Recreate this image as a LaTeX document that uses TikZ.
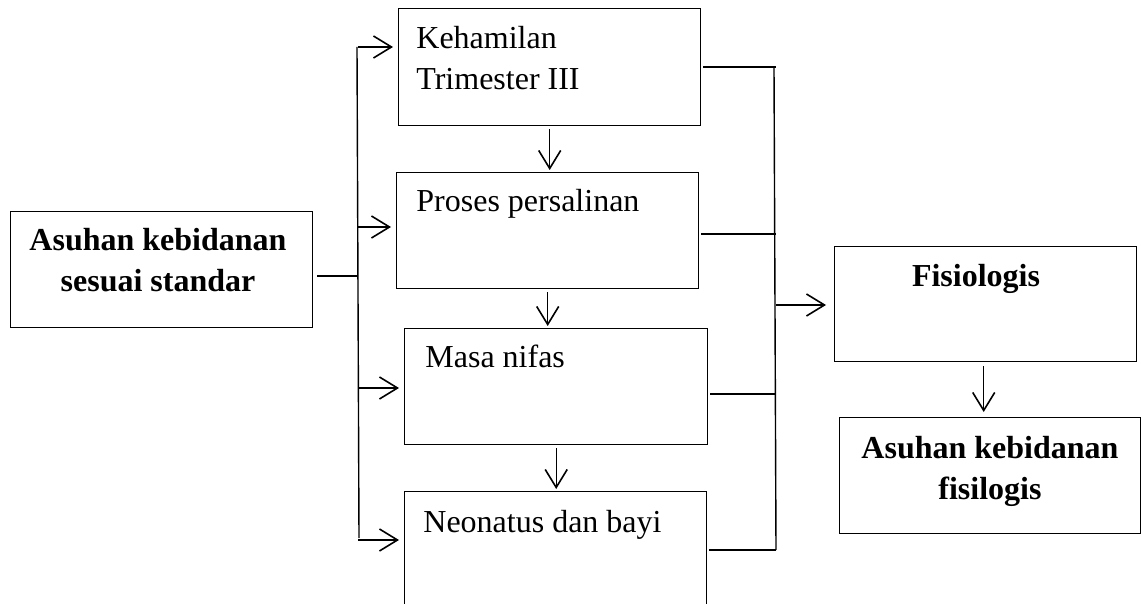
\documentclass[tikz,border=0pt]{standalone}
\usepackage{fontspec}
\setmainfont{Liberation Serif}
\usetikzlibrary{arrows.meta}
\begin{document}
\begin{tikzpicture}[x=0.5pt,y=-0.5pt,
		box/.style={draw, line width=0.7pt, rectangle, inner sep=0pt, anchor=north west},
		txt/.style={font=\fontsize{16pt}{20.5pt}\selectfont, inner sep=0pt},
		txtb/.style={font=\fontsize{16pt}{20.5pt}\selectfont\bfseries, inner sep=0pt, align=center},
		conn/.style={line width=0.7pt},
		arr/.style={conn, -{Straight Barb[length=9pt,width=11pt,line width=0.8pt]}}]
	\useasboundingbox (0,0) rectangle (1141,604);
	\clip (0,0) rectangle (1141,604);
	
	% boxes
	\foreach \n/\x/\y/\w/\h in {asuhan/10/211/151/58, hamil/398/8/151/58.5, salin/396/172/151/58,
		nifas/404/328/151.5/58, bayi/404/491/151/80, fis/834/246/151/57.5, asfis/839/417/150.5/58}{
		\node[box, minimum width=\w pt, minimum height=\h pt] (\n) at (\x,\y) {};
	}
	
	% texts (base = last line)
	\node[txtb, anchor=base] (tasuhan) at (158,292) {Asuhan kebidanan\\sesuai standar};
	\node[txt, anchor=base west, align=left] (thamil) at (416,90) {Kehamilan\\Trimester III};
	\node[txt, anchor=base west] (tsalin) at (416,212) {Proses persalinan};
	\node[txt, anchor=base west] (tnifas) at (425,368) {Masa nifas};
	\node[txt, anchor=base west] (tbayi) at (423,532) {Neonatus dan bayi};
	\node[txtb, anchor=base] (tfis) at (976,287) {Fisiologis};
	\node[txtb, anchor=base] (tasfis) at (990,499) {Asuhan kebidanan\\fisilogis};
	
	% left bus
	\coordinate (lin) at (357,276);
	\coordinate (ltop) at (357,47);
	\coordinate (lbot) at (359,538);
	\draw[conn] ([xshift=2pt]asuhan.east |- lin) -- (lin);
	\draw[conn] (ltop) -- (lbot);
	\foreach \b/\y in {hamil/47, salin/227, nifas/388, bayi/540}{
		\draw[arr, shorten >=2.5pt] (358,\y) -- (\b.west |- 0,\y);
	}
	
	% down arrows
	\foreach \a/\b in {hamil/salin, salin/nifas, nifas/bayi}{
		\draw[arr, shorten <=1.5pt, shorten >=1pt] (\a.south) -- (\a.south |- \b.north);
	}
	
	% right bus
	\coordinate (rtop) at (774,67);
	\coordinate (rbot) at (776,550);
	\draw[conn] (rtop) -- (rbot);
	\foreach \b/\y in {hamil/67, salin/234, nifas/394, bayi/550}{
		\draw[conn] ([xshift=1pt]\b.east |- 0,\y) -- (776,\y);
	}
	\draw[arr, shorten >=4pt] (776,305) -- (fis.west |- 0,305);
	\draw[arr, shorten <=2pt, shorten >=2.5pt] ([xshift=-1pt]fis.south) -- ([xshift=-1pt]fis.south |- asfis.north);
\end{tikzpicture}
\end{document}
